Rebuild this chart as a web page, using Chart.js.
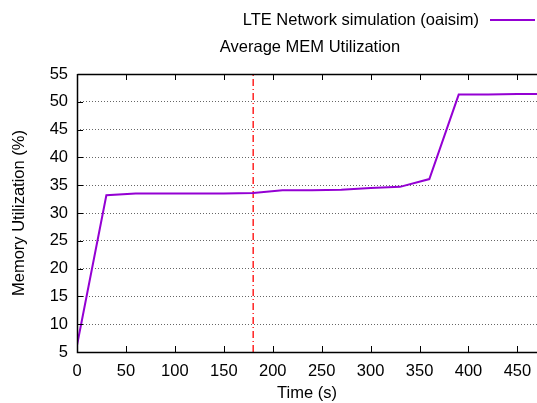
<!DOCTYPE html>
<html>
<head>
<meta charset="utf-8">
<script src="https://cdn.jsdelivr.net/npm/chart.js@4/dist/chart.umd.min.js"></script>
<style>
  html, body { margin: 0; padding: 0; background: #fff; }
  #wrap { width: 537px; height: 403px; }
</style>
</head>
<body>
<div id="wrap"><canvas id="c" width="537" height="403"></canvas></div>
<script>
// Sampling times (s) and average memory utilisation (%)
const timeSec = [0, 30, 60, 90, 120, 150, 180, 210, 240, 270, 300, 330, 360, 390, 420, 450, 480];
const memUtil = [6.2, 33.2, 33.5, 33.5, 33.5, 33.5, 33.6, 34.1, 34.1, 34.2, 34.5, 34.7, 36.1, 51.3, 51.3, 51.4, 51.4];
const xTicks = [0, 50, 100, 150, 200, 250, 300, 350, 400, 450];
const markerTime = 180;          // vertical reference line
const seriesLabel = 'LTE Network simulation (oaisim)';
const chartTitle = 'Average MEM Utilization';
const xTitle = 'Time (s)';
const yTitle = 'Memory Utilization (%)';

const FONT = '"Liberation Sans", Arial, sans-serif';
const FS = 16.5;
const PURPLE = '#9400d3';

// Frame, inward tick marks, title and legend in gnuplot style
const decor = {
  id: 'decor',
  afterDatasetsDraw(chart) {
    const { ctx, chartArea: a, scales } = chart;
    ctx.save();
    ctx.strokeStyle = '#000';
    ctx.lineWidth = 1;
    ctx.beginPath();
    scales.x.ticks.forEach(t => {
      const px = Math.round(scales.x.getPixelForValue(t.value)) + 0.5;
      ctx.moveTo(px, a.bottom); ctx.lineTo(px, a.bottom - 6);
      ctx.moveTo(px, a.top); ctx.lineTo(px, a.top + 6);
    });
    scales.y.ticks.forEach(t => {
      const py = Math.round(scales.y.getPixelForValue(t.value)) + 0.5;
      ctx.moveTo(a.left, py); ctx.lineTo(a.left + 6, py);
    });
    ctx.stroke();
    ctx.lineWidth = 1.5;
    ctx.beginPath();
    ctx.moveTo(a.left + 0.5, a.top + 0.5);
    ctx.lineTo(a.right, a.top + 0.5);
    ctx.moveTo(a.left + 0.5, a.top);
    ctx.lineTo(a.left + 0.5, a.bottom + 0.5);
    ctx.lineTo(a.right, a.bottom + 0.5);
    ctx.stroke();
    ctx.restore();
  },
  afterDraw(chart) {
    const { ctx } = chart;
    ctx.save();
    ctx.fillStyle = '#000';
    ctx.font = FS + 'px ' + FONT;
    ctx.textBaseline = 'middle';
    ctx.textAlign = 'center';
    ctx.fillText(chartTitle, 310, 47);
    ctx.textAlign = 'right';
    ctx.fillText(chart.data.datasets[0].label, 479, 20);
    ctx.strokeStyle = chart.data.datasets[0].borderColor;
    ctx.lineWidth = 2;
    ctx.beginPath();
    ctx.moveTo(490, 20); ctx.lineTo(535, 20);
    ctx.stroke();
    ctx.restore();
  }
};

new Chart(document.getElementById('c'), {
  type: 'line',
  data: {
    datasets: [
      {
        label: seriesLabel,
        data: timeSec.map((t, i) => ({ x: t, y: memUtil[i] })),
        borderColor: PURPLE,
        borderWidth: 2,
        pointRadius: 0,
        tension: 0,
        fill: false
      },
      {
        label: 'marker',
        data: [{ x: markerTime, y: 5 }, { x: markerTime, y: 55 }],
        borderColor: '#ff0000',
        borderWidth: 1.3,
        borderDash: [7, 3, 1, 3],
        pointRadius: 0,
        fill: false
      }
    ]
  },
  plugins: [decor],
  options: {
    responsive: false,
    animation: false,
    layout: { padding: { top: 74, right: 0, left: 0, bottom: 0 } },
    plugins: { legend: { display: false }, title: { display: false }, tooltip: { enabled: false } },
    scales: {
      x: {
        type: 'linear',
        min: 0, max: 470,
        border: { display: false },
        grid: { display: false, drawTicks: false },
        afterBuildTicks(s) { s.ticks = xTicks.map(v => ({ value: v })); },
        ticks: { autoSkip: false, maxRotation: 0, color: '#000', padding: 10, font: { family: FONT, size: FS } },
        title: { display: true, text: xTitle, color: '#000', padding: { top: 0, bottom: 0 }, font: { family: FONT, size: FS } },
        afterFit(s) { s.height = 51; s.paddingRight = 0; }
      },
      y: {
        min: 5, max: 55,
        border: { display: false, dash: [1, 2] },
        grid: {
          color: '#666',
          lineWidth: 1,
          drawTicks: false
        },
        ticks: { stepSize: 5, color: '#000', padding: 9, font: { family: FONT, size: FS } },
        title: { display: true, text: yTitle, color: '#000', padding: { top: 10, bottom: 0 }, font: { family: FONT, size: FS } },
        afterFit(s) { s.width = 77; }
      }
    },
    elements: { line: { borderJoinStyle: 'miter' } }
  }
});
</script>
</body>
</html>
